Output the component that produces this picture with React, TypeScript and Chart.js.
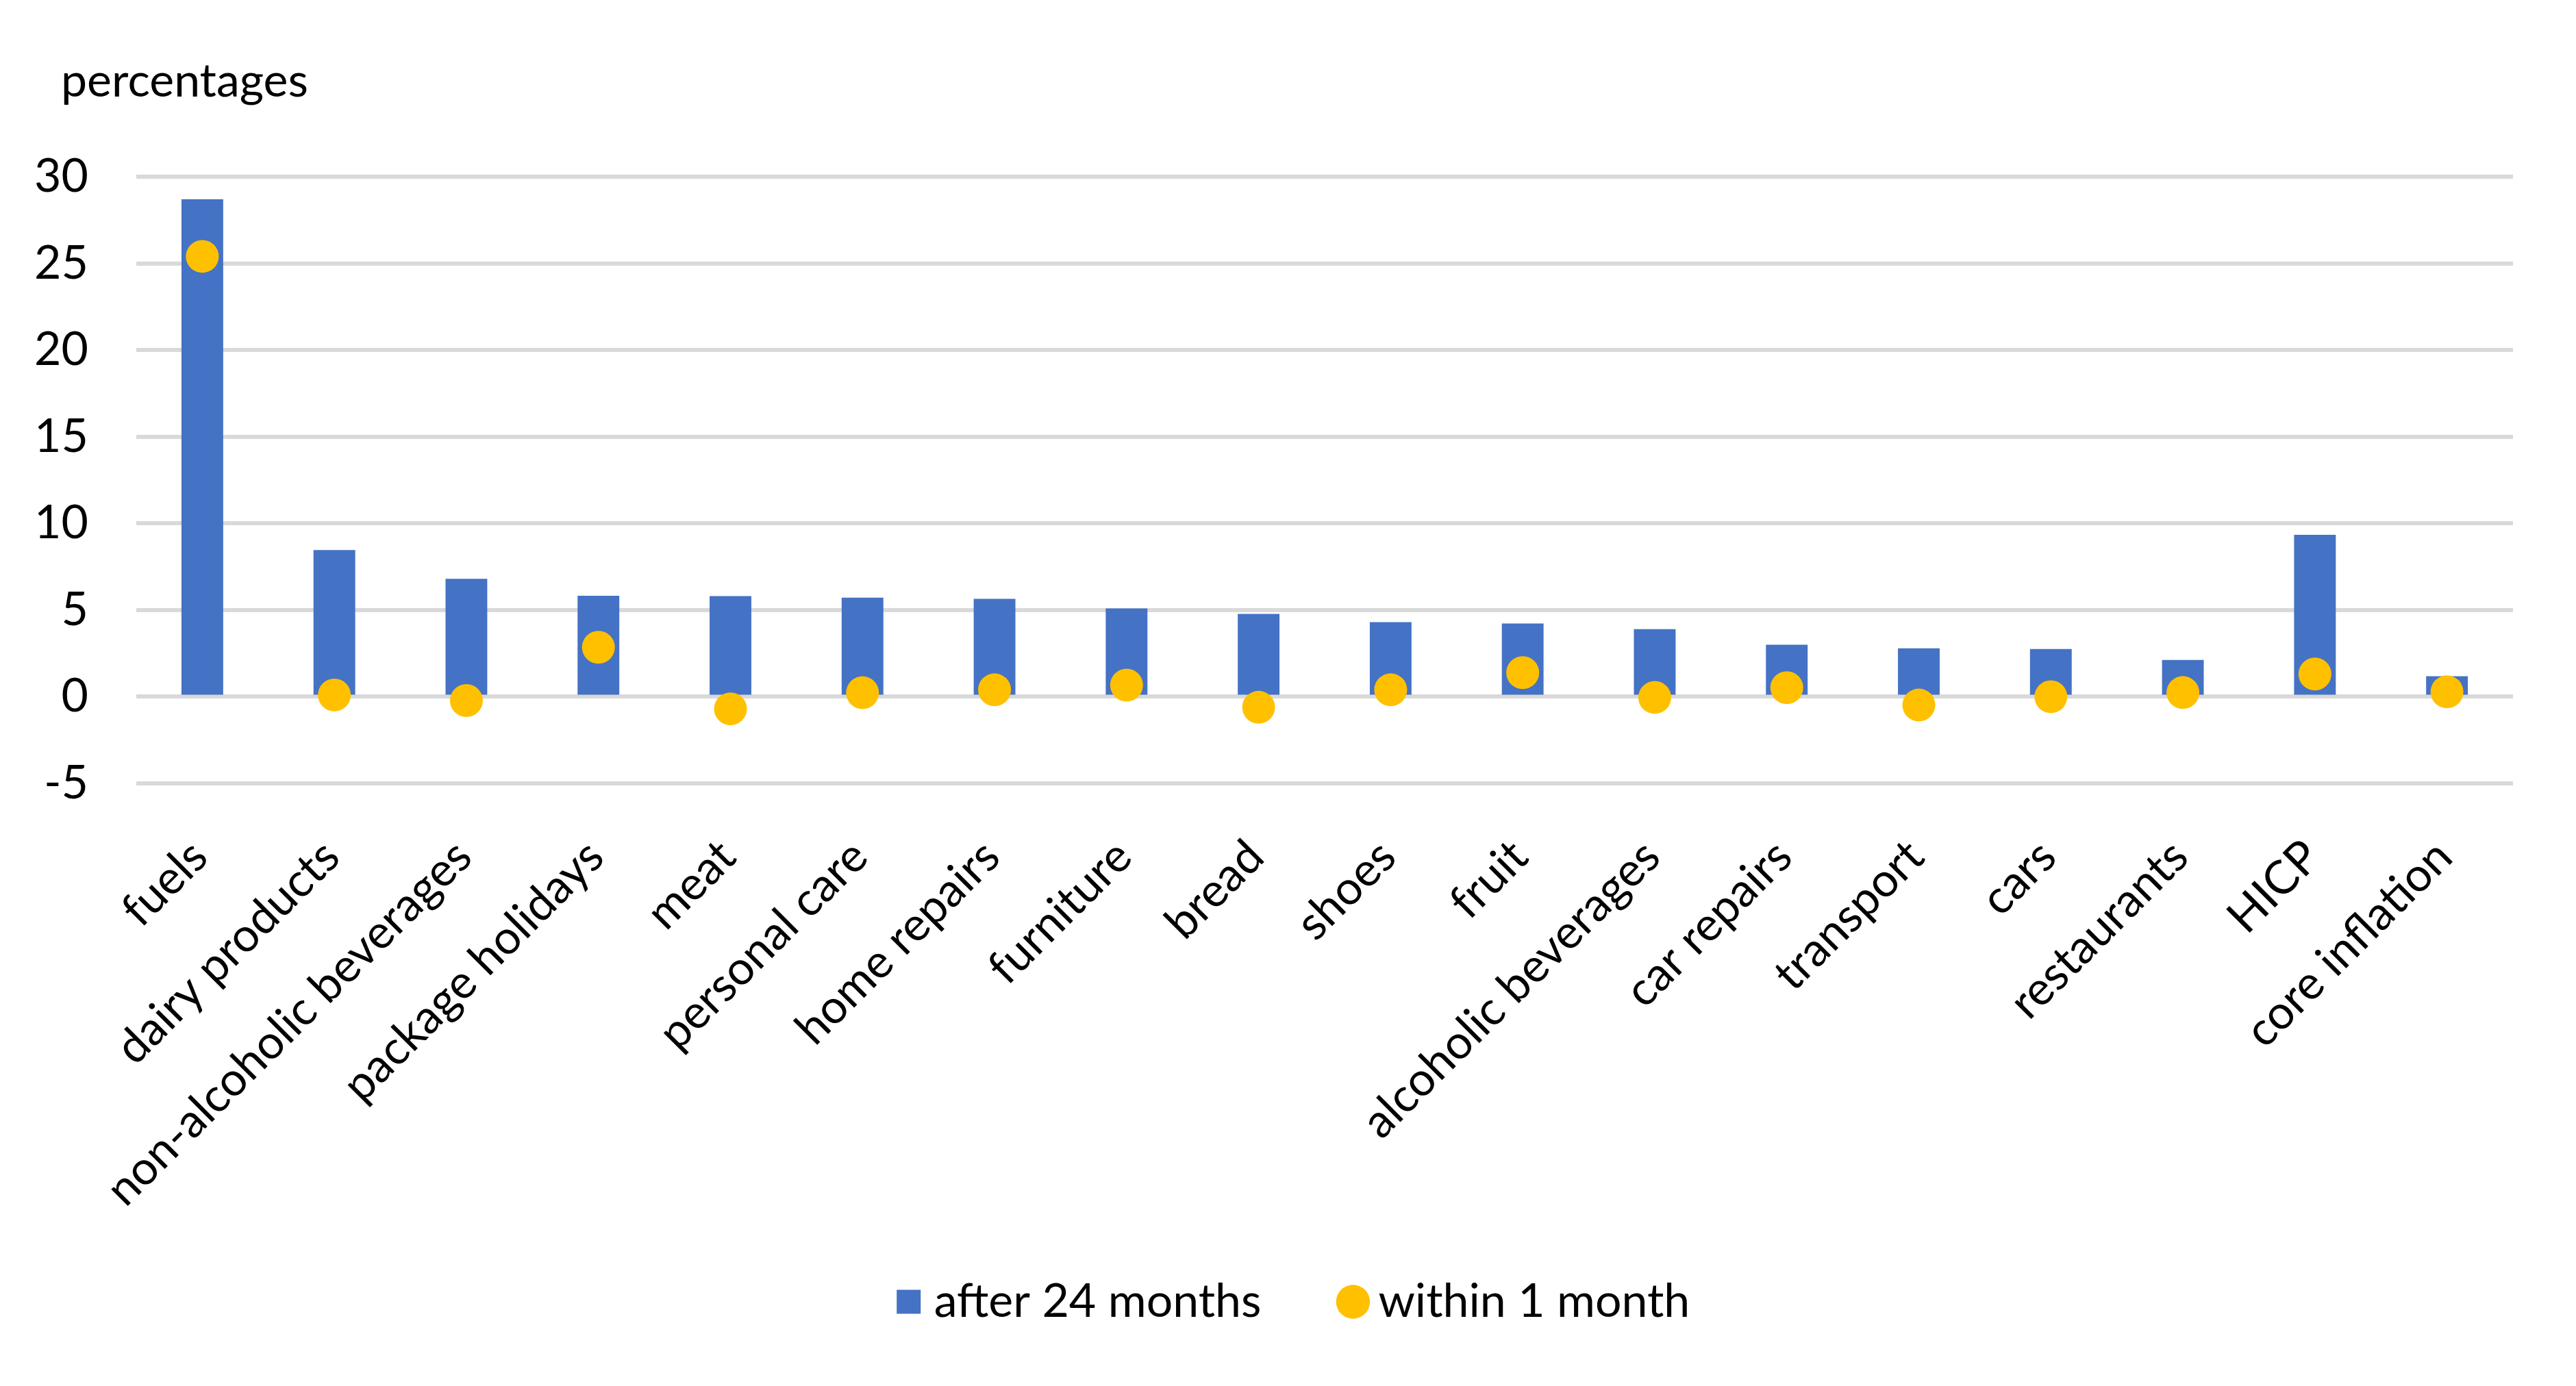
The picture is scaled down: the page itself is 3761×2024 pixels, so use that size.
import React, { useEffect, useRef } from "react";
import { Chart, registerables } from "chart.js";

Chart.register(...registerables);

const categories = [
  "fuels",
  "dairy products",
  "non-alcoholic beverages",
  "package holidays",
  "meat",
  "personal care",
  "home repairs",
  "furniture",
  "bread",
  "shoes",
  "fruit",
  "alcoholic beverages",
  "car repairs",
  "transport",
  "cars",
  "restaurants",
  "HICP",
  "core inflation",
];

const after24Months = [28.7, 8.46, 6.8, 5.82, 5.8, 5.72, 5.65, 5.09, 4.78, 4.3, 4.22, 3.9, 3.0, 2.79, 2.75, 2.12, 9.34, 1.18];
const within1Month = [25.4, 0.1, -0.22, 2.85, -0.7, 0.23, 0.4, 0.67, -0.61, 0.4, 1.39, -0.04, 0.52, -0.48, 0.0, 0.24, 1.31, 0.28];

const yTicksMin = -5;
const yTicksMax = 30;
const yTickStep = 5;

const seriesNames = ["after 24 months", "within 1 month"];
const yAxisTitle = "percentages";

const FONT = "Lato";
const FS = 68;

export default function App() {
  const canvasRef = useRef<HTMLCanvasElement | null>(null);

  useEffect(() => {
    const canvas = canvasRef.current;
    if (!canvas) return;

    const titlePlugin = {
      id: "unitTitle",
      afterDraw(chart: any) {
        const { ctx, chartArea } = chart;
        ctx.save();
        ctx.font = `${FS}px ${FONT}`;
        ctx.fillStyle = "#000";
        ctx.textAlign = "left";
        ctx.textBaseline = "alphabetic";
        ctx.fillText(yAxisTitle, chartArea.left - 110, chartArea.top - 117);
        ctx.restore();
      },
    };

    // Nudges the legend to the right and lets the rotated x labels
    // extend below the x scale box without being clipped.
    const layoutTweak = {
      id: "layoutTweak",
      afterLayout(chart: any) {
        const lg = chart.legend;
        if (lg) {
          lg.left += 57;
          lg.right += 57;
        }
        const xs = chart.scales.x;
        if (xs) xs.bottom = chart.height;
      },
    };

    const chart = new Chart(canvas, {
      type: "bar",
      data: {
        labels: categories,
        datasets: [
          {
            type: "bar",
            label: seriesNames[0],
            data: after24Months,
            backgroundColor: "#4472C4",
            borderWidth: 0,
            barPercentage: 0.316,
            categoryPercentage: 1.0,
            pointStyle: "rect",
            order: 1,
          } as any,
          {
            type: "line",
            label: seriesNames[1],
            data: within1Month,
            showLine: false,
            pointRadius: 24,
            pointHoverRadius: 24,
            pointBackgroundColor: "#FFC000",
            backgroundColor: "#FFC000",
            borderColor: "#FFC000",
            pointBorderWidth: 0,
            borderWidth: 0,
            pointStyle: "circle",
            order: 0,
          } as any,
        ],
      },
      options: {
        responsive: false,
        animation: false,
        devicePixelRatio: 1,
        layout: {
          padding: { top: 250, bottom: 71, left: 0, right: 84 },
        },
        scales: {
          x: {
            grid: { display: false, drawTicks: false },
            border: { display: false },
            ticks: {
              minRotation: 45,
              maxRotation: 45,
              autoSkip: false,
              padding: 67,
              labelOffset: -4,
              color: "#000",
              font: { family: FONT, size: FS },
            },
            afterFit(scale: any) {
              scale.height = 592;
            },
          },
          y: {
            min: yTicksMin,
            max: yTicksMax,
            grid: { color: "#D9D9D9", lineWidth: 6, drawTicks: false },
            border: { display: false },
            ticks: {
              stepSize: yTickStep,
              padding: 70,
              color: "#000",
              font: { family: FONT, size: FS },
            },
            afterFit(scale: any) {
              scale.width = 191;
            },
          },
        },
        plugins: {
          legend: {
            position: "bottom",
            labels: {
              usePointStyle: true,
              boxHeight: 35,
              boxWidth: 6,
              padding: 131,
              color: "#000",
              font: { family: FONT, size: FS },
              sort: (a: any, b: any) => a.datasetIndex - b.datasetIndex,
            },
          },
          tooltip: { enabled: false },
          title: { display: false },
        },
      },
      plugins: [titlePlugin, layoutTweak],
    });

    return () => {
      chart.destroy();
    };
  }, []);

  return (
    <div style={{ width: 3745, height: 2008 }}>
      <canvas ref={canvasRef} width={3745} height={2008} style={{ display: "block" }} />
    </div>
  );
}
